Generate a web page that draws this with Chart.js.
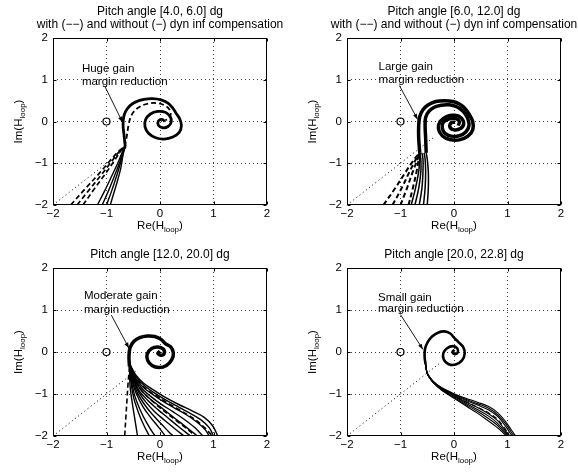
<!DOCTYPE html>
<html>
<head>
<meta charset="utf-8">
<script src="https://cdn.jsdelivr.net/npm/chart.js@4.4.0/dist/chart.umd.min.js"></script>
<style>
  body { margin: 0; background: #fff; }
  #wrap { position: relative; width: 578px; height: 475px; background: #fff; }
  #wrap canvas { position: absolute; }
</style>
</head>
<body>
<div id="wrap">
  <canvas id="p1" width="289" height="237" style="left:0;top:0"></canvas>
  <canvas id="p2" width="289" height="237" style="left:289px;top:0"></canvas>
  <canvas id="p3" width="289" height="238" style="left:0;top:237px"></canvas>
  <canvas id="p4" width="289" height="238" style="left:289px;top:237px"></canvas>
</div>
<script>
// axis ticks (same for all panels)
const xTicks = [-2, -1, 0, 1, 2];
const yTicks = [-2, -1, 0, 1, 2];
const critPoint = [[-1, 0]];
const subTitle = 'with (\u2212\u2212) and without (\u2212) dyn inf compensation';

// ---- panel 1: pitch 4.0 - 6.0 ----
const p1Spiral = [[-0.65,-0.6],[-0.67,-0.35],[-0.69,-0.1],[-0.68,0.1],[-0.64,0.25],[-0.56,0.38],[-0.45,0.47],[-0.3,0.53],[-0.14,0.55],[0.02,0.52],[0.15,0.44],[0.24,0.32],[0.3,0.2],[0.37,0.06],[0.4,-0.1],[0.36,-0.26],[0.24,-0.37],[0.08,-0.42],[-0.08,-0.39],[-0.21,-0.29],[-0.28,-0.13],[-0.27,0.04],[-0.18,0.18],[-0.04,0.24],[0.1,0.22],[0.19,0.12],[0.21,-0.01],[0.15,-0.12],[0.05,-0.15],[-0.03,-0.09],[-0.03,0.01],[0.04,0.05],[0.09,0.0]];
const p1DashSpiral = [[-0.66,-0.6],[-0.62,-0.35],[-0.59,-0.1],[-0.55,0.1],[-0.48,0.25],[-0.37,0.36],[-0.22,0.43],[-0.06,0.44],[0.08,0.39],[0.17,0.3],[0.2,0.18],[0.17,0.08],[0.1,0.03]];
const p1Solid = [
  [[-0.93,-2],[-0.86,-1.7],[-0.79,-1.4],[-0.73,-1.1],[-0.69,-0.8],[-0.65,-0.6]],
  [[-1.0,-2],[-0.9,-1.65],[-0.81,-1.3],[-0.74,-1.0],[-0.69,-0.75],[-0.65,-0.6]],
  [[-1.08,-2],[-0.96,-1.65],[-0.85,-1.3],[-0.76,-1.0],[-0.7,-0.75],[-0.65,-0.6]],
  [[-1.17,-2],[-1.03,-1.65],[-0.9,-1.3],[-0.79,-1.0],[-0.71,-0.75],[-0.65,-0.6]]
];
const p1Dashed = [
  [[-1.44,-2],[-1.22,-1.6],[-1.02,-1.25],[-0.86,-0.95],[-0.74,-0.72],[-0.66,-0.6]],
  [[-1.55,-2],[-1.3,-1.6],[-1.08,-1.25],[-0.9,-0.95],[-0.76,-0.72],[-0.66,-0.6]],
  [[-1.67,-2],[-1.39,-1.6],[-1.14,-1.25],[-0.94,-0.95],[-0.78,-0.72],[-0.66,-0.6]]
];
const p1Dotted = [[-2,-2],[-0.62,-0.62]];

// ---- panel 2: pitch 6.0 - 12.0 ----
const p2SpiralA = [[-0.64,-0.75],[-0.66,-0.4],[-0.66,-0.1],[-0.64,0.12],[-0.58,0.28],[-0.48,0.4],[-0.34,0.48],[-0.18,0.5],[-0.02,0.48],[0.1,0.42],[0.2,0.32],[0.28,0.18],[0.35,0.0],[0.35,-0.2],[0.26,-0.35],[0.1,-0.44],[-0.08,-0.43],[-0.22,-0.34],[-0.29,-0.18],[-0.26,0.0],[-0.14,0.12],[0.02,0.15],[0.14,0.08],[0.18,-0.06],[0.12,-0.17],[0.0,-0.2],[-0.08,-0.12],[-0.05,-0.03],[0.02,-0.02]];
const p2SpiralB = [[-0.52,-0.75],[-0.53,-0.4],[-0.54,-0.1],[-0.53,0.1],[-0.47,0.24],[-0.37,0.34],[-0.24,0.39],[-0.1,0.4],[0.02,0.37],[0.12,0.3],[0.2,0.2],[0.26,0.06],[0.28,-0.1],[0.22,-0.25],[0.1,-0.34],[-0.05,-0.35],[-0.17,-0.28],[-0.22,-0.15],[-0.2,-0.02],[-0.1,0.06],[0.03,0.07],[0.1,0.0],[0.08,-0.1]];
const p2Solid = [
  [[-0.5,-2],[-0.48,-1.6],[-0.48,-1.2],[-0.5,-0.9],[-0.52,-0.75]],
  [[-0.57,-2],[-0.54,-1.6],[-0.53,-1.2],[-0.54,-0.9],[-0.56,-0.75]],
  [[-0.65,-2],[-0.6,-1.6],[-0.58,-1.2],[-0.58,-0.9],[-0.6,-0.75]],
  [[-0.73,-2],[-0.66,-1.6],[-0.62,-1.2],[-0.62,-0.9],[-0.64,-0.75]],
  [[-0.8,-2],[-0.72,-1.6],[-0.66,-1.2],[-0.64,-0.9],[-0.64,-0.75]]
];
const p2Dashed = [
  [[-0.85,-2],[-0.77,-1.6],[-0.7,-1.2],[-0.66,-0.9],[-0.64,-0.75]],
  [[-1.0,-2],[-0.88,-1.6],[-0.77,-1.2],[-0.68,-0.9],[-0.64,-0.75]],
  [[-1.15,-2],[-0.98,-1.6],[-0.83,-1.2],[-0.71,-0.9],[-0.64,-0.75]],
  [[-1.32,-2],[-1.1,-1.6],[-0.9,-1.2],[-0.74,-0.9],[-0.64,-0.75]]
];
const p2Dotted = [[-2,-2],[-0.38,-0.38]];

// ---- panel 3: pitch 12.0 - 20.0 ----
const p3Spiral = [[-0.57,-0.35],[-0.58,-0.1],[-0.56,0.1],[-0.49,0.25],[-0.38,0.34],[-0.24,0.38],[-0.1,0.37],[0.02,0.3],[0.1,0.2],[0.2,0.12],[0.25,-0.02],[0.22,-0.18],[0.12,-0.32],[-0.02,-0.37],[-0.15,-0.32],[-0.23,-0.2],[-0.24,-0.05],[-0.16,0.08],[-0.04,0.12],[0.06,0.07],[0.08,-0.03],[0.02,-0.08],[-0.04,-0.03],[0.0,0.02]];
const p3Solid = [
  [[-0.56,-0.3],[-0.45,-0.55],[-0.3,-0.75],[-0.1,-0.92],[0.1,-1.08],[0.35,-1.25],[0.6,-1.4],[0.82,-1.55],[0.98,-1.75],[1.08,-2]],
  [[-0.56,-0.32],[-0.46,-0.57],[-0.31,-0.78],[-0.12,-0.96],[0.08,-1.12],[0.32,-1.29],[0.55,-1.45],[0.76,-1.61],[0.92,-1.8],[1.0,-2]],
  [[-0.56,-0.35],[-0.47,-0.6],[-0.33,-0.82],[-0.15,-1.0],[0.05,-1.17],[0.28,-1.34],[0.5,-1.5],[0.7,-1.68],[0.85,-1.86],[0.92,-2]],
  [[-0.56,-0.35],[-0.48,-0.61],[-0.35,-0.85],[-0.18,-1.05],[0.02,-1.24],[0.24,-1.42],[0.45,-1.6],[0.65,-1.8],[0.8,-2]],
  [[-0.56,-0.35],[-0.49,-0.62],[-0.37,-0.88],[-0.2,-1.1],[0.0,-1.3],[0.2,-1.5],[0.4,-1.7],[0.6,-1.9],[0.7,-2]],
  [[-0.56,-0.35],[-0.5,-0.63],[-0.39,-0.92],[-0.23,-1.15],[-0.05,-1.36],[0.14,-1.56],[0.35,-1.78],[0.57,-2]],
  [[-0.56,-0.35],[-0.5,-0.65],[-0.4,-0.95],[-0.26,-1.2],[-0.1,-1.42],[0.08,-1.62],[0.3,-1.85],[0.45,-2]],
  [[-0.57,-0.35],[-0.51,-0.68],[-0.42,-0.98],[-0.29,-1.25],[-0.14,-1.49],[0.03,-1.72],[0.18,-1.92],[0.25,-2]],
  [[-0.57,-0.35],[-0.52,-0.7],[-0.44,-1.0],[-0.32,-1.3],[-0.18,-1.55],[-0.02,-1.8],[0.1,-2]],
  [[-0.57,-0.35],[-0.53,-0.72],[-0.47,-1.05],[-0.37,-1.38],[-0.25,-1.68],[-0.1,-1.98],[-0.05,-2]],
  [[-0.57,-0.35],[-0.54,-0.75],[-0.49,-1.1],[-0.4,-1.45],[-0.3,-1.75],[-0.2,-2]],
  [[-0.57,-0.35],[-0.56,-0.8],[-0.52,-1.2],[-0.47,-1.6],[-0.42,-2]]
];
const p3Dashed = [
  [[-0.57,-0.35],[-0.6,-0.8],[-0.62,-1.2],[-0.64,-1.6],[-0.66,-2]],
  [[-0.56,-0.35],[-0.46,-0.7],[-0.3,-0.98],[-0.1,-1.22],[0.12,-1.45],[0.35,-1.68],[0.55,-1.88],[0.65,-2]],
  [[-0.56,-0.32],[-0.45,-0.6],[-0.28,-0.86],[-0.06,-1.05],[0.18,-1.24],[0.42,-1.42],[0.65,-1.6],[0.85,-1.82],[0.98,-2]]
];
const p3Dotted = [[-2,-2],[-0.45,-0.45]];

// ---- panel 4: pitch 20.0 - 22.8 ----
const p4Spiral = [[-0.53,-0.3],[-0.55,-0.1],[-0.54,0.08],[-0.49,0.24],[-0.41,0.37],[-0.3,0.46],[-0.18,0.49],[-0.07,0.44],[0.0,0.34],[0.08,0.24],[0.17,0.12],[0.2,-0.04],[0.15,-0.2],[0.03,-0.3],[-0.1,-0.29],[-0.19,-0.18],[-0.2,-0.03],[-0.13,0.09],[-0.02,0.14],[0.06,0.09],[0.07,-0.01],[0.01,-0.05],[-0.03,0.0],[0.01,0.05]];
const p4Solid = [
  [[-0.53,-0.3],[-0.5,-0.5],[-0.4,-0.68],[-0.24,-0.84],[-0.02,-0.98],[0.22,-1.1],[0.45,-1.2],[0.65,-1.3],[0.82,-1.45],[0.96,-1.65],[1.07,-1.85],[1.15,-2]],
  [[-0.53,-0.3],[-0.5,-0.505],[-0.4,-0.69],[-0.235,-0.855],[-0.015,-1.0],[0.22,-1.125],[0.45,-1.235],[0.65,-1.34],[0.82,-1.5],[0.96,-1.7],[1.065,-1.9],[1.12,-2]],
  [[-0.53,-0.3],[-0.5,-0.51],[-0.4,-0.7],[-0.23,-0.87],[-0.01,-1.02],[0.22,-1.15],[0.45,-1.27],[0.65,-1.38],[0.82,-1.54],[0.96,-1.76],[1.06,-1.95],[1.09,-2]],
  [[-0.53,-0.3],[-0.5,-0.515],[-0.395,-0.71],[-0.225,-0.885],[-0.005,-1.04],[0.22,-1.19],[0.44,-1.32],[0.645,-1.47],[0.81,-1.63],[0.93,-1.82],[1.03,-2]],
  [[-0.53,-0.3],[-0.5,-0.52],[-0.39,-0.72],[-0.22,-0.9],[0.0,-1.06],[0.22,-1.22],[0.44,-1.37],[0.64,-1.52],[0.8,-1.68],[0.92,-1.85],[1.02,-2]],
  [[-0.53,-0.3],[-0.495,-0.525],[-0.385,-0.73],[-0.215,-0.915],[0.0,-1.08],[0.22,-1.25],[0.435,-1.41],[0.63,-1.57],[0.79,-1.72],[0.91,-1.88],[1.0,-2]],
  [[-0.53,-0.3],[-0.49,-0.53],[-0.38,-0.74],[-0.21,-0.93],[0.0,-1.1],[0.22,-1.28],[0.43,-1.45],[0.62,-1.62],[0.78,-1.77],[0.9,-1.9],[0.98,-2]]
];
const p4Dashed = [
  [[-0.53,-0.3],[-0.5,-0.51],[-0.4,-0.71],[-0.22,-0.88],[0.0,-1.04],[0.22,-1.18],[0.45,-1.32],[0.65,-1.45],[0.81,-1.6],[0.94,-1.8],[1.04,-2]]
];
const p4Dotted = [[-2,-2],[-0.25,-0.25]];

// annotation text
const p1Note = ['Huge gain', 'margin reduction'];
const p2Note = ['Large gain', 'margin reduction'];
const p3Note = ['Moderate gain', 'margin reduction'];
const p4Note = ['Small gain', 'margin reduction'];

const FONT = '"Liberation Sans", Arial, Helvetica, sans-serif';
const FS = 11.5;

function pts(arr) {
  return arr.map(p => ({ x: p[0], y: p[1] }));
}

function fmtTick(v) {
  return v < 0 ? '\u2212' + Math.abs(v) : String(v);
}

// draws box, inward ticks, titles, axis labels and the arrow note
const deco = {
  id: 'deco',
  afterDraw(chart, args, o) {
    const { ctx, chartArea: a, scales: { x, y } } = chart;
    const L = Math.round(a.left) + 0.5, R = Math.round(a.right) - 0.5;
    const T = Math.round(a.top) + 0.5, B = Math.round(a.bottom) - 0.5;
    ctx.save();
    ctx.strokeStyle = '#000';
    ctx.lineWidth = 1;
    ctx.setLineDash([]);
    ctx.strokeRect(L, T, R - L, B - T);

    // inward ticks
    ctx.beginPath();
    xTicks.forEach(v => {
      const px = Math.round(x.getPixelForValue(v)) + 0.5;
      ctx.moveTo(px, B); ctx.lineTo(px, B - 3);
      ctx.moveTo(px, T); ctx.lineTo(px, T + 3);
    });
    yTicks.forEach(v => {
      const py = Math.round(y.getPixelForValue(v)) + 0.5;
      ctx.moveTo(L, py); ctx.lineTo(L + 3, py);
      ctx.moveTo(R, py); ctx.lineTo(R - 3, py);
    });
    ctx.stroke();

    ctx.fillStyle = '#000';
    ctx.textBaseline = 'middle';
    ctx.textAlign = 'center';
    ctx.font = '12px ' + FONT;
    const cx = (a.left + a.right) / 2;
    const n = o.title.length;
    o.title.forEach((t, i) => {
      ctx.fillText(t, cx, a.top - 13 - (n - 1 - i) * 13);
    });

    // axis labels with subscript
    subLabel(ctx, 'Re(H', 'loop', ')', cx, a.bottom + 21);
    ctx.save();
    ctx.translate(a.left - 34, (a.top + a.bottom) / 2);
    ctx.rotate(-Math.PI / 2);
    subLabel(ctx, 'Im(H', 'loop', ')', 0, 0);
    ctx.restore();

    // note text
    ctx.textAlign = 'left';
    ctx.font = FS + 'px ' + FONT;
    const tx = x.getPixelForValue(o.noteAt[0]);
    ctx.fillText(o.note[0], tx, y.getPixelForValue(o.noteAt[1]));
    ctx.fillText(o.note[1], tx, y.getPixelForValue(o.noteAt[2]));

    // arrow
    const x0 = x.getPixelForValue(o.arrow[0][0]), y0 = y.getPixelForValue(o.arrow[0][1]);
    const x1 = x.getPixelForValue(o.arrow[1][0]), y1 = y.getPixelForValue(o.arrow[1][1]);
    const ang = Math.atan2(y1 - y0, x1 - x0);
    ctx.lineWidth = 0.9;
    ctx.beginPath();
    ctx.moveTo(x0, y0); ctx.lineTo(x1, y1);
    ctx.stroke();
    ctx.beginPath();
    ctx.moveTo(x1, y1);
    ctx.lineTo(x1 - 6 * Math.cos(ang - 0.35), y1 - 6 * Math.sin(ang - 0.35));
    ctx.lineTo(x1 - 6 * Math.cos(ang + 0.35), y1 - 6 * Math.sin(ang + 0.35));
    ctx.closePath();
    ctx.fill();
    ctx.restore();
  }
};

function subLabel(ctx, main, sub, tail, cx, cy) {
  ctx.textAlign = 'left';
  ctx.font = FS + 'px ' + FONT;
  const w1 = ctx.measureText(main).width, w3 = ctx.measureText(tail).width;
  ctx.font = '8px ' + FONT;
  const w2 = ctx.measureText(sub).width;
  const sx = cx - (w1 + w2 + w3) / 2;
  ctx.font = FS + 'px ' + FONT;
  ctx.fillText(main, sx, cy);
  ctx.font = '8px ' + FONT;
  ctx.fillText(sub, sx + w1, cy + 4);
  ctx.font = FS + 'px ' + FONT;
  ctx.fillText(tail, sx + w1 + w2, cy);
  ctx.textAlign = 'center';
}

function solidSet(arr, w) {
  return { data: pts(arr), showLine: true, pointRadius: 0, borderColor: '#000', borderWidth: w || 1.3, tension: 0.35 };
}
function dashSet(arr, w) {
  return { data: pts(arr), showLine: true, pointRadius: 0, borderColor: '#000', borderWidth: w || 1.7, borderDash: [5, 3], tension: 0.35 };
}
function dotSet(arr) {
  return { data: pts(arr), showLine: true, pointRadius: 0, borderColor: '#000', borderWidth: 1, borderDash: [1, 3], tension: 0 };
}
function critSet() {
  return { data: pts(critPoint), showLine: false, pointRadius: 3.5, borderColor: '#000', backgroundColor: 'rgba(0,0,0,0)', borderWidth: 1.2 };
}

const panels = [
  { id: 'p1', title: ['Pitch angle [4.0, 6.0] dg', subTitle], note: p1Note, noteAt: [-1.46, 1.27, 0.96],
    arrow: [[-1.03, 0.84], [-0.7, -0.02]], yw: 53, right: 22, top: 38, xh: 32,
    sets: [dotSet(p1Dotted)].concat(p1Dashed.map(d => dashSet(d)), p1Solid.map(s => solidSet(s, 1.4)),
      [solidSet(p1Spiral, 2.8), dashSet(p1DashSpiral, 1.8), critSet()]) },
  { id: 'p2', title: ['Pitch angle [6.0, 12.0] dg', subTitle], note: p2Note, noteAt: [-1.41, 1.3, 0.99],
    arrow: [[-1.02, 0.86], [-0.68, 0.05]], yw: 58, right: 17, top: 38, xh: 32,
    sets: [dotSet(p2Dotted)].concat(p2Dashed.map(d => dashSet(d, 2)), p2Solid.map(s => solidSet(s, 1.5)),
      [solidSet(p2SpiralA, 3.5), solidSet(p2SpiralB, 3.5), critSet()]) },
  { id: 'p3', title: ['Pitch angle [12.0, 20.0] dg'], note: p3Note, noteAt: [-1.42, 1.33, 1.0],
    arrow: [[-0.91, 0.88], [-0.58, 0.09]], yw: 53, right: 22, top: 31, xh: 39,
    sets: [dotSet(p3Dotted)].concat(p3Solid.map(s => solidSet(s, 1.4)), p3Dashed.map(d => dashSet(d, 1.6)),
      [solidSet(p3Spiral, 3.5), critSet()]) },
  { id: 'p4', title: ['Pitch angle [20.0, 22.8] dg'], note: p4Note, noteAt: [-1.42, 1.3, 1.02],
    arrow: [[-1.0, 0.89], [-0.58, 0.06]], yw: 58, right: 17, top: 31, xh: 39,
    sets: [dotSet(p4Dotted)].concat(p4Solid.map(s => solidSet(s, 1.1)), p4Dashed.map(d => dashSet(d, 1.1)),
      [solidSet(p4Spiral, 2.6), critSet()]) }
];

function gridColor(c) {
  const v = c.tick ? c.tick.value : 0;
  return (v === -2 || v === 2) ? 'rgba(0,0,0,0)' : 'rgba(0,0,0,0.75)';
}

panels.forEach(p => {
  new Chart(document.getElementById(p.id), {
    type: 'scatter',
    data: { datasets: p.sets },
    options: {
      responsive: false,
      animation: false,
      layout: { padding: { top: p.top, right: p.right, left: 0, bottom: 0 } },
      plugins: {
        legend: { display: false },
        tooltip: { enabled: false },
        deco: { title: p.title, note: p.note, noteAt: p.noteAt, arrow: p.arrow }
      },
      scales: {
        x: {
          type: 'linear', min: -2, max: 2,
          afterBuildTicks: s => { s.ticks = xTicks.map(v => ({ value: v })); },
          afterFit: s => { s.height = p.xh; },
          ticks: { callback: fmtTick, color: '#000', padding: 2, maxRotation: 0, font: { family: FONT, size: FS } },
          grid: { color: gridColor, lineWidth: 1, drawTicks: false },
          border: { display: false, dash: [1, 3] }
        },
        y: {
          type: 'linear', min: -2, max: 2,
          afterBuildTicks: s => { s.ticks = yTicks.map(v => ({ value: v })); },
          afterFit: s => { s.width = p.yw; },
          ticks: { callback: fmtTick, color: '#000', padding: 5, font: { family: FONT, size: FS } },
          grid: { color: gridColor, lineWidth: 1, drawTicks: false },
          border: { display: false, dash: [1, 3] }
        }
      }
    },
    plugins: [deco]
  });
});
</script>
</body>
</html>
